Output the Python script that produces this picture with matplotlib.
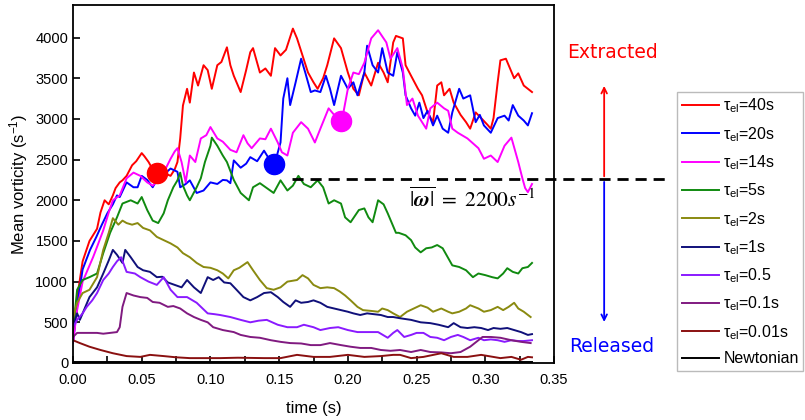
import matplotlib.pyplot as plt
from matplotlib.ticker import MultipleLocator

plt.rcParams['font.family'] = ['Liberation Sans', 'DejaVu Sans']
plt.rcParams['mathtext.fontset'] = 'custom'
plt.rcParams['mathtext.rm'] = 'Liberation Sans'
plt.rcParams['mathtext.it'] = 'Liberation Sans:italic'

# Datos (tiempo en s, vorticidad media en 1/s)
t_40 = [0.000, 0.003, 0.007, 0.012, 0.0175, 0.020, 0.023, 0.026, 0.029, 0.031, 0.034, 0.036, 0.039, 0.043, 0.046,
        0.050, 0.052, 0.055, 0.058, 0.063, 0.067, 0.071, 0.074, 0.076, 0.078, 0.080, 0.083, 0.085, 0.088, 0.091,
        0.095, 0.098, 0.101, 0.105, 0.108, 0.112, 0.1145, 0.117, 0.122, 0.126, 0.129, 0.131, 0.136, 0.140, 0.144,
        0.147, 0.151, 0.155, 0.160, 0.163, 0.167, 0.171, 0.175, 0.178, 0.182, 0.185, 0.190, 0.195, 0.200, 0.204,
        0.208, 0.212, 0.217, 0.222, 0.226, 0.229, 0.233, 0.235, 0.240, 0.242, 0.246, 0.251, 0.254, 0.258, 0.262,
        0.265, 0.268, 0.270, 0.274, 0.277, 0.282, 0.286, 0.289, 0.293, 0.297, 0.302, 0.304, 0.306, 0.309, 0.311,
        0.315, 0.317, 0.321, 0.324, 0.328, 0.331, 0.334]
w_40 = [250, 800, 1250, 1500, 1650, 1850, 2000, 1950, 2060, 2150, 2220, 2245, 2300, 2430, 2480,
        2580, 2540, 2470, 2380, 2270, 2330, 2300, 2380, 2470, 2760, 3165, 3370, 3200, 3570, 3410,
        3660, 3600, 3370, 3660, 3700, 3880, 3660, 3530, 3330, 3600, 3820, 3870, 3570, 3620, 3530,
        3870, 3780, 3850, 4110, 3990, 3780, 3570, 3450, 3370, 3500, 3660, 3990, 3870, 3570, 3370,
        3290, 3570, 3410, 3690, 3570, 3450, 3940, 4020, 3990, 3660, 3530, 3370, 3290, 3080, 2960,
        3410, 3450, 3290, 3370, 3200, 3050, 2960, 2880, 3080, 3010, 2920, 2880, 3010, 3450, 3720,
        3740, 3660, 3500, 3560, 3410, 3370, 3330]

t_20 = [0.000, 0.003, 0.007, 0.0124, 0.017, 0.021, 0.025, 0.029, 0.032, 0.034, 0.039, 0.044, 0.047, 0.050, 0.054,
        0.058, 0.061, 0.065, 0.071, 0.076, 0.078, 0.082, 0.085, 0.090, 0.095, 0.100, 0.105, 0.109, 0.112, 0.1145,
        0.117, 0.122, 0.126, 0.129, 0.134, 0.139, 0.143, 0.1466, 0.150, 0.151, 0.153, 0.156, 0.158, 0.162, 0.166,
        0.169, 0.173, 0.176, 0.180, 0.184, 0.187, 0.190, 0.195, 0.200, 0.204, 0.207, 0.212, 0.214, 0.218, 0.222,
        0.225, 0.229, 0.233, 0.236, 0.240, 0.242, 0.246, 0.249, 0.252, 0.255, 0.258, 0.262, 0.265, 0.269, 0.273,
        0.276, 0.281, 0.284, 0.289, 0.293, 0.296, 0.299, 0.304, 0.309, 0.314, 0.317, 0.320, 0.324, 0.328, 0.331,
        0.334]
w_20 = [250, 700, 1150, 1390, 1550, 1700, 1840, 1950, 2060, 2040, 2220, 2160, 2160, 2300, 2250,
        2160, 2250, 2300, 2390, 2350, 2160, 2200, 2245, 2090, 2120, 2220, 2200, 2250, 2245, 2210,
        2490, 2400, 2450, 2530, 2480, 2610, 2500, 2440, 2650, 2710, 3250, 3500, 3170, 3450, 3740,
        3570, 3330, 3350, 3330, 3530, 3370, 3170, 3530, 3370, 3450, 3290, 3570, 3900, 3660, 3570,
        3870, 3570, 3530, 3820, 3570, 3290, 3130, 3040, 3200, 3010, 3100, 2920, 3040, 2880, 2830,
        3080, 3370, 3250, 3290, 2960, 3050, 2920, 2830, 3010, 3040, 2980, 3170, 3040, 2980, 2920,
        3070]

t_14 = [0.000, 0.003, 0.007, 0.0146, 0.018, 0.022, 0.026, 0.029, 0.034, 0.039, 0.044, 0.049, 0.054, 0.058, 0.062,
        0.066, 0.071, 0.074, 0.076, 0.079, 0.082, 0.085, 0.089, 0.093, 0.097, 0.100, 0.105, 0.109, 0.1145, 0.119,
        0.124, 0.127, 0.130, 0.136, 0.140, 0.144, 0.149, 0.152, 0.156, 0.160, 0.166, 0.171, 0.176, 0.180, 0.186,
        0.190, 0.1947, 0.197, 0.200, 0.204, 0.208, 0.212, 0.217, 0.222, 0.228, 0.231, 0.236, 0.240, 0.243, 0.247,
        0.251, 0.254, 0.257, 0.260, 0.265, 0.270, 0.273, 0.276, 0.280, 0.287, 0.291, 0.295, 0.299, 0.304, 0.309,
        0.314, 0.319, 0.322, 0.324, 0.327, 0.329, 0.331, 0.334]
w_14 = [250, 650, 1000, 1300, 1450, 1630, 1850, 2000, 2060, 2270, 2340, 2300, 2220, 2180, 2250,
        2340, 2510, 2600, 2640, 2470, 2220, 2550, 2470, 2760, 2800, 2900, 2760, 2720, 2620, 2590,
        2800, 2700, 2640, 2760, 2750, 2880, 2710, 2590, 2550, 2830, 2960, 2880, 2710, 2880, 3130,
        3050, 2980, 3100, 3370, 3570, 3550, 3690, 3990, 4090, 3940, 3740, 3870, 3620, 3170, 3250,
        3040, 2960, 2880, 3130, 3200, 3130, 3100, 2880, 2830, 2760, 2700, 2640, 2510, 2550, 2470,
        2670, 2770, 2590, 2470, 2270, 2150, 2100, 2200]

t_5 = [0.000, 0.003, 0.007, 0.012, 0.0175, 0.022, 0.027, 0.032, 0.036, 0.042, 0.047, 0.050, 0.054, 0.058, 0.062,
       0.066, 0.069, 0.073, 0.076, 0.078, 0.080, 0.083, 0.085, 0.090, 0.093, 0.096, 0.100, 0.101, 0.105, 0.109,
       0.112, 0.117, 0.122, 0.128, 0.131, 0.136, 0.141, 0.146, 0.151, 0.156, 0.160, 0.164, 0.168, 0.173, 0.178,
       0.182, 0.186, 0.190, 0.195, 0.198, 0.202, 0.208, 0.212, 0.215, 0.218, 0.222, 0.226, 0.229, 0.232, 0.235,
       0.237, 0.242, 0.246, 0.249, 0.253, 0.257, 0.261, 0.265, 0.269, 0.273, 0.276, 0.281, 0.286, 0.291, 0.295,
       0.300, 0.305, 0.309, 0.313, 0.316, 0.320, 0.324, 0.327, 0.331, 0.334]
w_5 = [400, 900, 1020, 1055, 1100, 1350, 1600, 1790, 1960, 2000, 1960, 2040, 1880, 1750, 1720,
       1840, 2000, 2160, 2245, 2340, 2180, 2060, 2000, 2160, 2270, 2470, 2670, 2770, 2670, 2550,
       2470, 2250, 2090, 2000, 2160, 2210, 2150, 2090, 2245, 2120, 2180, 2300, 2200, 2160, 2245,
       2160, 1960, 2000, 1960, 1790, 1730, 1880, 1900, 1790, 1730, 2000, 1950, 1840, 1720, 1600,
       1600, 1570, 1510, 1420, 1360, 1410, 1420, 1450, 1410, 1290, 1200, 1180, 1140, 1055, 1100,
       1080, 1055, 1040, 1100, 1165, 1120, 1100, 1165, 1180, 1230]

t_2 = [0.000, 0.003, 0.007, 0.012, 0.0175, 0.022, 0.026, 0.029, 0.033, 0.036, 0.039, 0.043, 0.047, 0.051, 0.056,
       0.061, 0.066, 0.071, 0.076, 0.080, 0.085, 0.090, 0.095, 0.100, 0.105, 0.109, 0.113, 0.117, 0.121, 0.127,
       0.131, 0.136, 0.141, 0.146, 0.151, 0.156, 0.163, 0.167, 0.171, 0.175, 0.180, 0.185, 0.190, 0.194, 0.198,
       0.202, 0.207, 0.211, 0.217, 0.222, 0.225, 0.229, 0.233, 0.238, 0.243, 0.248, 0.253, 0.258, 0.262, 0.268,
       0.273, 0.276, 0.281, 0.286, 0.289, 0.295, 0.299, 0.304, 0.309, 0.313, 0.317, 0.321, 0.324, 0.328, 0.333]
w_2 = [550, 740, 860, 900, 1055, 1390, 1600, 1780, 1700, 1750, 1720, 1700, 1720, 1660, 1630,
       1550, 1510, 1470, 1420, 1350, 1300, 1230, 1180, 1170, 1140, 1100, 1040, 1140, 1170, 1240,
       1140, 1020, 920, 900, 930, 1000, 1020, 1080, 1040, 960, 920, 930, 920, 880, 830,
       770, 690, 650, 640, 630, 670, 650, 610, 565, 630, 670, 710, 680, 630, 670,
       630, 610, 630, 670, 710, 670, 630, 650, 690, 650, 690, 740, 670, 630, 565]

t_1 = [0.000, 0.003, 0.005, 0.009, 0.012, 0.0175, 0.022, 0.026, 0.029, 0.032, 0.036, 0.038, 0.042, 0.047, 0.051,
       0.056, 0.061, 0.065, 0.069, 0.074, 0.079, 0.083, 0.088, 0.093, 0.098, 0.102, 0.106, 0.110, 0.1145, 0.119,
       0.124, 0.129, 0.134, 0.139, 0.144, 0.149, 0.153, 0.158, 0.162, 0.166, 0.171, 0.175, 0.180, 0.185, 0.190,
       0.195, 0.200, 0.204, 0.209, 0.214, 0.219, 0.224, 0.229, 0.233, 0.238, 0.246, 0.253, 0.260, 0.266, 0.273,
       0.277, 0.282, 0.287, 0.292, 0.297, 0.302, 0.306, 0.311, 0.316, 0.321, 0.326, 0.331, 0.334]
w_1 = [450, 610, 530, 690, 810, 930, 1100, 1260, 1390, 1330, 1230, 1390, 1300, 1180, 1140,
       1120, 1055, 1060, 990, 960, 930, 1020, 930, 860, 1055, 1020, 1055, 990, 980, 900,
       810, 770, 810, 860, 870, 810, 750, 690, 770, 740, 750, 770, 740, 690, 670,
       650, 630, 610, 590, 610, 600, 590, 565, 565, 550, 530, 500, 490, 470, 440,
       490, 440, 430, 440, 430, 405, 430, 420, 430, 405, 380, 345, 355]

t_05 = [0.000, 0.003, 0.007, 0.010, 0.014, 0.0175, 0.022, 0.026, 0.029, 0.032, 0.035, 0.039, 0.045, 0.049, 0.055,
        0.061, 0.066, 0.071, 0.076, 0.083, 0.090, 0.098, 0.103, 0.107, 0.1145, 0.122, 0.129, 0.135, 0.141, 0.149,
        0.156, 0.163, 0.168, 0.175, 0.180, 0.187, 0.193, 0.200, 0.207, 0.214, 0.222, 0.229, 0.233, 0.236, 0.241,
        0.246, 0.250, 0.255, 0.260, 0.265, 0.270, 0.275, 0.280, 0.284, 0.289, 0.295, 0.299, 0.304, 0.309, 0.314,
        0.319, 0.324, 0.328, 0.334]
w_05 = [440, 530, 610, 690, 770, 860, 1020, 1100, 1180, 1250, 1300, 1120, 1100, 1055, 1000,
        960, 1055, 900, 810, 810, 740, 610, 600, 590, 565, 530, 500, 520, 530, 470,
        440, 440, 470, 440, 405, 430, 440, 405, 380, 380, 380, 310, 370, 405, 320,
        345, 370, 370, 320, 310, 280, 320, 345, 320, 280, 310, 280, 290, 280, 260,
        280, 270, 270, 280]

t_01 = [0.000, 0.003, 0.010, 0.0175, 0.022, 0.027, 0.032, 0.034, 0.036, 0.039, 0.044, 0.049, 0.054, 0.058, 0.063,
        0.069, 0.073, 0.078, 0.083, 0.088, 0.093, 0.098, 0.102, 0.109, 0.117, 0.122, 0.129, 0.136, 0.144, 0.151,
        0.158, 0.166, 0.173, 0.180, 0.187, 0.195, 0.202, 0.209, 0.217, 0.224, 0.231, 0.238, 0.246, 0.253, 0.260,
        0.268, 0.275, 0.282, 0.289, 0.295, 0.298, 0.304, 0.311, 0.319, 0.326, 0.333]
w_01 = [320, 370, 370, 370, 360, 370, 380, 440, 690, 860, 830, 810, 800, 750, 740,
        690, 700, 670, 610, 565, 530, 500, 440, 405, 380, 345, 320, 310, 280, 260,
        245, 240, 220, 220, 245, 220, 200, 185, 185, 160, 150, 160, 135, 160, 135,
        130, 120, 135, 200, 280, 320, 320, 310, 280, 260, 245]

t_001 = [0.000, 0.005, 0.012, 0.020, 0.029, 0.039, 0.049, 0.056, 0.066, 0.075, 0.085, 0.095, 0.107, 0.120, 0.139,
         0.151, 0.163, 0.175, 0.187, 0.200, 0.212, 0.224, 0.233, 0.238, 0.246, 0.255, 0.268, 0.277, 0.287, 0.297,
         0.311, 0.319, 0.326, 0.331, 0.334]
w_001 = [280, 245, 200, 160, 120, 85, 75, 100, 85, 70, 60, 60, 60, 65, 60,
         60, 100, 75, 75, 100, 75, 85, 100, 100, 60, 75, 120, 75, 75, 100,
         60, 75, 40, 75, 70]

t_newt = [0.000, 0.100, 0.200, 0.334]
w_newt = [15, 15, 15, 15]

# Puntos marcados sobre las curvas
t_pts = [0.0612, 0.1466, 0.1947]
w_pts = [2330, 2440, 2980]
c_pts = ['#ff0000', '#0000ff', '#ff00ff']

w_umbral = 2260

series = [
    (t_40, w_40, '#ff0000', r'τ$_{\mathrm{el}}$=40s'),
    (t_20, w_20, '#0000ff', r'τ$_{\mathrm{el}}$=20s'),
    (t_14, w_14, '#ff00ff', r'τ$_{\mathrm{el}}$=14s'),
    (t_5, w_5, '#108a10', r'τ$_{\mathrm{el}}$=5s'),
    (t_2, w_2, '#8a8a10', r'τ$_{\mathrm{el}}$=2s'),
    (t_1, w_1, '#10107a', r'τ$_{\mathrm{el}}$=1s'),
    (t_05, w_05, '#8a1aff', r'τ$_{\mathrm{el}}$=0.5'),
    (t_01, w_01, '#801a80', r'τ$_{\mathrm{el}}$=0.1s'),
    (t_001, w_001, '#8a1010', r'τ$_{\mathrm{el}}$=0.01s'),
    (t_newt, w_newt, '#000000', 'Newtonian'),
]

fig = plt.figure(figsize=(8.05, 4.2), dpi=100)
ax = fig.add_axes([73 / 805, 57 / 420, 481 / 805, 358 / 420])

for t, w, c, lab in series:
    ax.plot(t, w, color=c, lw=1.4, label=lab)

for t, w, c in zip(t_pts, w_pts, c_pts):
    ax.plot(t, w, 'o', color=c, ms=14.5, zorder=5)

ax.set_xlim(0, 0.35)
ax.set_ylim(0, 4400)
ax.xaxis.set_major_locator(MultipleLocator(0.05))
ax.xaxis.set_minor_locator(MultipleLocator(0.025))
ax.yaxis.set_major_locator(MultipleLocator(500))
ax.xaxis.set_major_formatter(plt.FormatStrFormatter('%.2f'))
ax.tick_params(which='both', direction='in', length=5, width=1.2, labelsize=10.5)
ax.tick_params(axis='x', pad=7)
for s in ax.spines.values():
    s.set_linewidth(1.3)

ax.set_xlabel('time (s)', fontsize=12, labelpad=10)
ax.set_ylabel('Mean vorticity (s$^{-1}$)', fontsize=12, labelpad=4)

# Linea umbral y flechas
ax.plot([0.159, 0.434], [w_umbral, w_umbral], '--', color='black', lw=2,
        dashes=(4, 2.5), clip_on=False)
ax.annotate('', xy=(0.3865, 3440), xytext=(0.3865, w_umbral), annotation_clip=False,
            arrowprops=dict(arrowstyle='->', color='#ff0000', lw=1.3))
ax.annotate('', xy=(0.3865, 470), xytext=(0.3865, w_umbral), annotation_clip=False,
            arrowprops=dict(arrowstyle='->', color='#0000ff', lw=1.3))
fig.text(612 / 805, 1 - 53 / 420, 'Extracted', color='#ff0000', fontsize=13.5,
         ha='center', va='center', family='DejaVu Sans')
fig.text(612 / 805, 1 - 347 / 420, 'Released', color='#0000ff', fontsize=13.5,
         ha='center', va='center', family='DejaVu Sans')

ax.text(0.2445, 2000, r'$\overline{|\boldsymbol{\omega}|}\ =\ 2200s^{-1}$', fontsize=15.5,
        math_fontfamily='stix', va='center', ha='left')

leg = fig.legend(loc='upper left', bbox_to_anchor=(677 / 805, 1 - 92 / 420), fontsize=11.5,
                 frameon=True, fancybox=False, edgecolor='#aaaaaa', handlelength=2.3,
                 labelspacing=0.6, borderaxespad=0, handletextpad=0.3, borderpad=0.3)
leg.get_frame().set_linewidth(1.0)

fig.savefig('out.png', dpi=100)
